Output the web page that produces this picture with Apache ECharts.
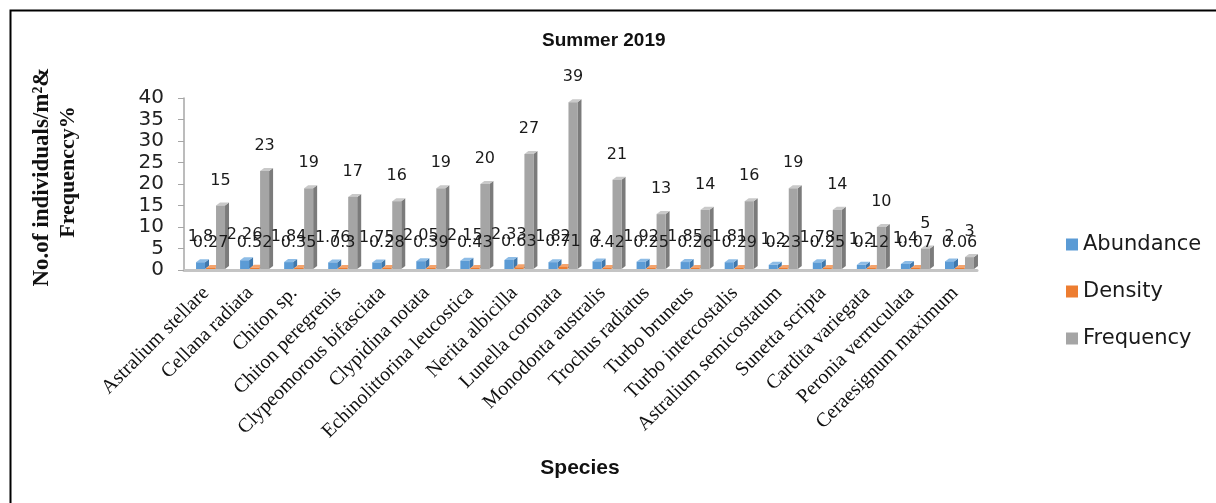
<!DOCTYPE html>
<html>
<head>
<meta charset="utf-8">
<script src="https://cdn.jsdelivr.net/npm/echarts@6/dist/echarts.min.js"></script>
<style>
  html, body { margin: 0; padding: 0; background: #fff; }
  #chart { width: 1216px; height: 503px; }
</style>
</head>
<body>
<div id="chart"></div>
<script>
// Species sampled in summer 2019
const species = [
  'Astralium stellare', 'Cellana radiata', 'Chiton sp.', 'Chiton peregrenis',
  'Clypeomorous bifasciata', 'Clypidina notata', 'Echinolittorina leucostica',
  'Nerita albicilla', 'Lunella coronata', 'Monodonta australis', 'Trochus radiatus',
  'Turbo bruneus', 'Turbo intercostalis', 'Astralium semicostatum', 'Sunetta scripta',
  'Cardita variegata', 'Peronia verruculata', 'Ceraesignum maximum'
];
const abundance = [1.8, 2.26, 1.84, 1.76, 1.75, 2.05, 2.15, 2.33, 1.82, 2, 1.92, 1.85, 1.81, 1.2, 1.78, 1.2, 1.4, 2];
const density   = [0.27, 0.52, 0.35, 0.3, 0.28, 0.39, 0.43, 0.63, 0.71, 0.42, 0.25, 0.26, 0.29, 0.23, 0.25, 0.12, 0.07, 0.06];
const frequency = [15, 23, 19, 17, 16, 19, 20, 27, 39, 21, 13, 14, 16, 19, 14, 10, 5, 3];
const yTicks = { min: 0, max: 40, step: 5 };

// colour sets: front face, side face, top face
const palettes = {
  Abundance: { front: '#5B9BD5', side: '#3F78AD', top: '#8DBCE6' },
  Density:   { front: '#ED7D31', side: '#B85E22', top: '#F4A46E' },
  Frequency: { front: '#A5A5A5', side: '#7B7B7B', top: '#C9C9C9' }
};

const BAR_W = 9, DEPTH_X = 4, DEPTH_Y = 3;

// Pseudo-3D column: front rectangle, right side and top faces, value label above
function columnRenderer(slot, pal) {
  return function (params, api) {
    const idx = api.value(0);
    const val = api.value(1);
    const base = api.coord([idx, 0]);
    const top = api.coord([idx, val]);
    const x0 = base[0] + slot * 10 - 10;
    const x1 = x0 + BAR_W;
    const yb = base[1] - 1;
    const yt = Math.min(top[1], yb - 1);
    return {
      type: 'group',
      children: [
        { type: 'polygon', shape: { points: [[x1, yb], [x1 + DEPTH_X, yb - DEPTH_Y], [x1 + DEPTH_X, yt - DEPTH_Y], [x1, yt]] }, style: { fill: pal.side } },
        { type: 'polygon', shape: { points: [[x0, yt], [x1, yt], [x1 + DEPTH_X, yt - DEPTH_Y], [x0 + DEPTH_X, yt - DEPTH_Y]] }, style: { fill: pal.top } },
        { type: 'rect', shape: { x: x0, y: yt, width: BAR_W, height: yb - yt }, style: { fill: pal.front } },
        {
          type: 'text', z2: 100,
          style: {
            x: (x0 + x1) / 2, y: yt - 25, text: String(val),
            textAlign: 'center', textVerticalAlign: 'middle',
            fill: '#1a1a1a', font: '16px "DejaVu Sans"'
          }
        }
      ]
    };
  };
}

function seriesFor(name, values, slot) {
  return {
    name: name,
    type: 'custom',
    renderItem: columnRenderer(slot, palettes[name]),
    itemStyle: { color: palettes[name].front },
    encode: { x: 0, y: 1 },
    data: values.map((v, i) => [i, v])
  };
}

const chart = echarts.init(document.getElementById('chart'), null, { renderer: 'canvas' });
chart.setOption({
  animation: false,
  backgroundColor: '#fff',
  title: {
    text: 'Summer 2019',
    left: 537, top: 26,
    textStyle: { fontFamily: 'Liberation Sans', fontWeight: 'bold', fontSize: 19, color: '#111' }
  },
  legend: {
    orient: 'vertical',
    left: 1061, top: 229,
    itemWidth: 12, itemHeight: 12, itemGap: 26,
    icon: 'rect',
    textStyle: { fontFamily: 'DejaVu Sans', fontSize: 21, lineHeight: 20, color: '#1a1a1a', padding: [0, 0, 0, 0] },
    data: ['Abundance', 'Density', 'Frequency']
  },
  grid: { left: 184, right: 239, top: 98, bottom: 233, containLabel: false },
  xAxis: {
    type: 'category',
    data: species,
    boundaryGap: true,
    axisLine: { lineStyle: { color: '#c4c4c4', width: 3 } },
    axisTick: { show: false },
    axisLabel: {
      interval: 0, rotate: 45, margin: 20,
      fontFamily: 'Liberation Serif', fontSize: 20, color: '#111'
    }
  },
  yAxis: {
    type: 'value',
    min: yTicks.min, max: yTicks.max, interval: yTicks.step,
    splitLine: { show: false },
    axisLine: { show: true, lineStyle: { color: '#a6a6a6', width: 1.5 } },
    axisTick: { show: true, length: 6, lineStyle: { color: '#a6a6a6' } },
    axisLabel: { margin: 20, fontFamily: 'DejaVu Sans', fontSize: 20, color: '#222' }
  },
  graphic: [
    {
      type: 'rect', silent: true, z: -1,
      shape: { x: 10.5, y: 10.5, width: 1400, height: 700 },
      style: { fill: 'none', stroke: '#000', lineWidth: 2 }
    },
    {
      type: 'text', x: 42, y: 177, rotation: Math.PI / 2,
      style: {
        text: 'No.of individuals/m²&', textAlign: 'center', textVerticalAlign: 'middle',
        font: 'bold 23px "Liberation Serif"', fill: '#111'
      }
    },
    {
      type: 'text', x: 68, y: 172, rotation: Math.PI / 2,
      style: {
        text: 'Frequenccy%', textAlign: 'center', textVerticalAlign: 'middle',
        font: 'bold 22px "Liberation Serif"', fill: '#111'
      }
    },
    {
      type: 'text', x: 580, y: 468,
      style: {
        text: 'Species', textAlign: 'center', textVerticalAlign: 'middle',
        font: 'bold 21px "Liberation Sans"', fill: '#111'
      }
    }
  ],
  series: [
    seriesFor('Abundance', abundance, 0),
    seriesFor('Density', density, 1),
    seriesFor('Frequency', frequency, 2)
  ]
});
</script>
</body>
</html>
